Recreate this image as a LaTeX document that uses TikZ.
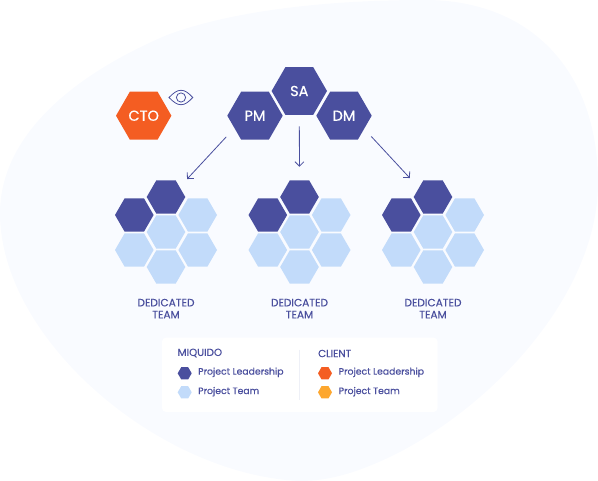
\documentclass[tikz,border=0pt]{standalone}
\usepackage{fontspec}
\setmainfont{Poppins}[FakeBold=0.25]
\newfontfamily\bolderfont{Poppins}[FakeBold=0.5]
\usetikzlibrary{shapes.geometric,arrows.meta}
\definecolor{navy}{HTML}{4A4F9E}
\definecolor{orng}{HTML}{F45D22}
\definecolor{lite}{HTML}{C2DBFA}
\definecolor{yell}{HTML}{FDA72F}
\definecolor{blob}{HTML}{F9FBFF}
\definecolor{rule}{HTML}{EEF0F7}
\tikzset{
  hexa/.style={regular polygon,regular polygon sides=6,inner sep=0pt,outer sep=0pt,draw=none},
  bighex/.style={hexa,minimum size=55.4pt,text=white,font=\bolderfont\fontsize{14.5}{14.5}\selectfont},
  smallhex/.style={hexa,minimum size=38.6pt},
  keyhex/.style={hexa,minimum size=14pt},
  lbl/.style={text=navy,inner sep=0pt,font=\fontsize{9.3}{9.3}\selectfont,anchor=west},
  head/.style={text=navy,inner sep=0pt,font=\fontsize{10.3}{10.3}\selectfont,anchor=west},
  teamlbl/.style={text=navy,inner sep=0pt,align=center,font=\fontsize{10.6}{12}\selectfont},
  flow/.style={navy,line width=0.8pt,-{Straight Barb[length=4.5pt,width=9pt,line width=0.8pt]}}
}
\begin{document}
\begin{tikzpicture}[x=1pt,y=-1pt]
\useasboundingbox (0,0) rectangle (598,481);
\fill[blob] (0,213) .. controls (0,150) and (50,85) .. (167,35)
  .. controls (240,8) and (340,0) .. (425,0)
  .. controls (530,0) and (598,70) .. (598,183)
  .. controls (598,290) and (500,400) .. (398,453)
  .. controls (360,472) and (330,481) .. (300,481)
  .. controls (160,475) and (0,340) .. (0,213) -- cycle;

% leadership row
\node[bighex,fill=orng] (CTO) at (143.7,115.7) {CTO};
\node[bighex,fill=navy] (PM) at (255,115.7) {PM};
\node[bighex,fill=navy] (SA) at (299.3,91) {SA};
\node[bighex,fill=navy] (DM) at (344,115.7) {DM};

% eye
\draw[navy,line width=0.8pt] (169,97.5) .. controls (174,92.5) and (177,90.3) .. (181,90.3)
  .. controls (185,90.3) and (188,92.5) .. (192.8,97.5)
  .. controls (188,102.5) and (185,104.7) .. (181,104.7)
  .. controls (177,104.7) and (174,102.5) .. (169,97.5) -- cycle;
\draw[navy,line width=0.8pt] (181,97.5) circle[radius=4.6];

% teams
\foreach \n/\x in {1/166,2/299.5,3/433}{
  \node[smallhex,fill=navy] (t\n a) at (\x-31.7,215) {};
  \node[smallhex,fill=navy] (t\n b) at (\x,197) {};
  \node[smallhex,fill=lite] (t\n c) at (\x+31.7,215) {};
  \node[smallhex,fill=lite] (t\n d) at (\x,232) {};
  \node[smallhex,fill=lite] (t\n e) at (\x-31.7,250) {};
  \node[smallhex,fill=lite] (t\n f) at (\x+31.7,250) {};
  \node[smallhex,fill=lite] (t\n g) at (\x,267) {};
  \node[teamlbl] (t\n l) at (\x,308.6) {DEDICATED\\TEAM};
}

% arrows
\draw[flow,shorten <=12pt,shorten >=11pt] (PM.211) -- (t1b.36);
\draw[flow,shorten <=11.5pt,shorten >=13.5pt] (SA.south) -- (t2b.north);
\draw[flow,shorten <=10.5pt,shorten >=13.4pt] (DM.-33.5) -- (t3b.147.3);

% legend
\node[fill=white,rounded corners=4pt,inner sep=0pt,minimum width=275.5pt,minimum height=74.5pt] (legend) at (299.8,374.8) {};
\coordinate (ruleTop) at (299.5,350);
\coordinate (ruleEnd) at (299.5,400);
\draw[rule,line width=0.7pt] (ruleTop) -- (ruleEnd);
\node[head] (mq) at (177.5,353) {MIQUIDO};
\node[head] (cl) at (318,353.5) {CLIENT};
\node[keyhex,fill=navy] (k1) at (184.7,373.3) {};
\node[keyhex,fill=lite] (k2) at (184.7,392.3) {};
\node[keyhex,fill=orng] (k3) at (325,373.3) {};
\node[keyhex,fill=yell] (k4) at (325,392.3) {};
\node[lbl] (l1) at (198,372.3) {Project Leadership};
\node[lbl] (l2) at (198,391.7) {Project Team};
\node[lbl] (l3) at (338.5,372.3) {Project Leadership};
\node[lbl] (l4) at (338.5,391.7) {Project Team};
\end{tikzpicture}
\end{document}
